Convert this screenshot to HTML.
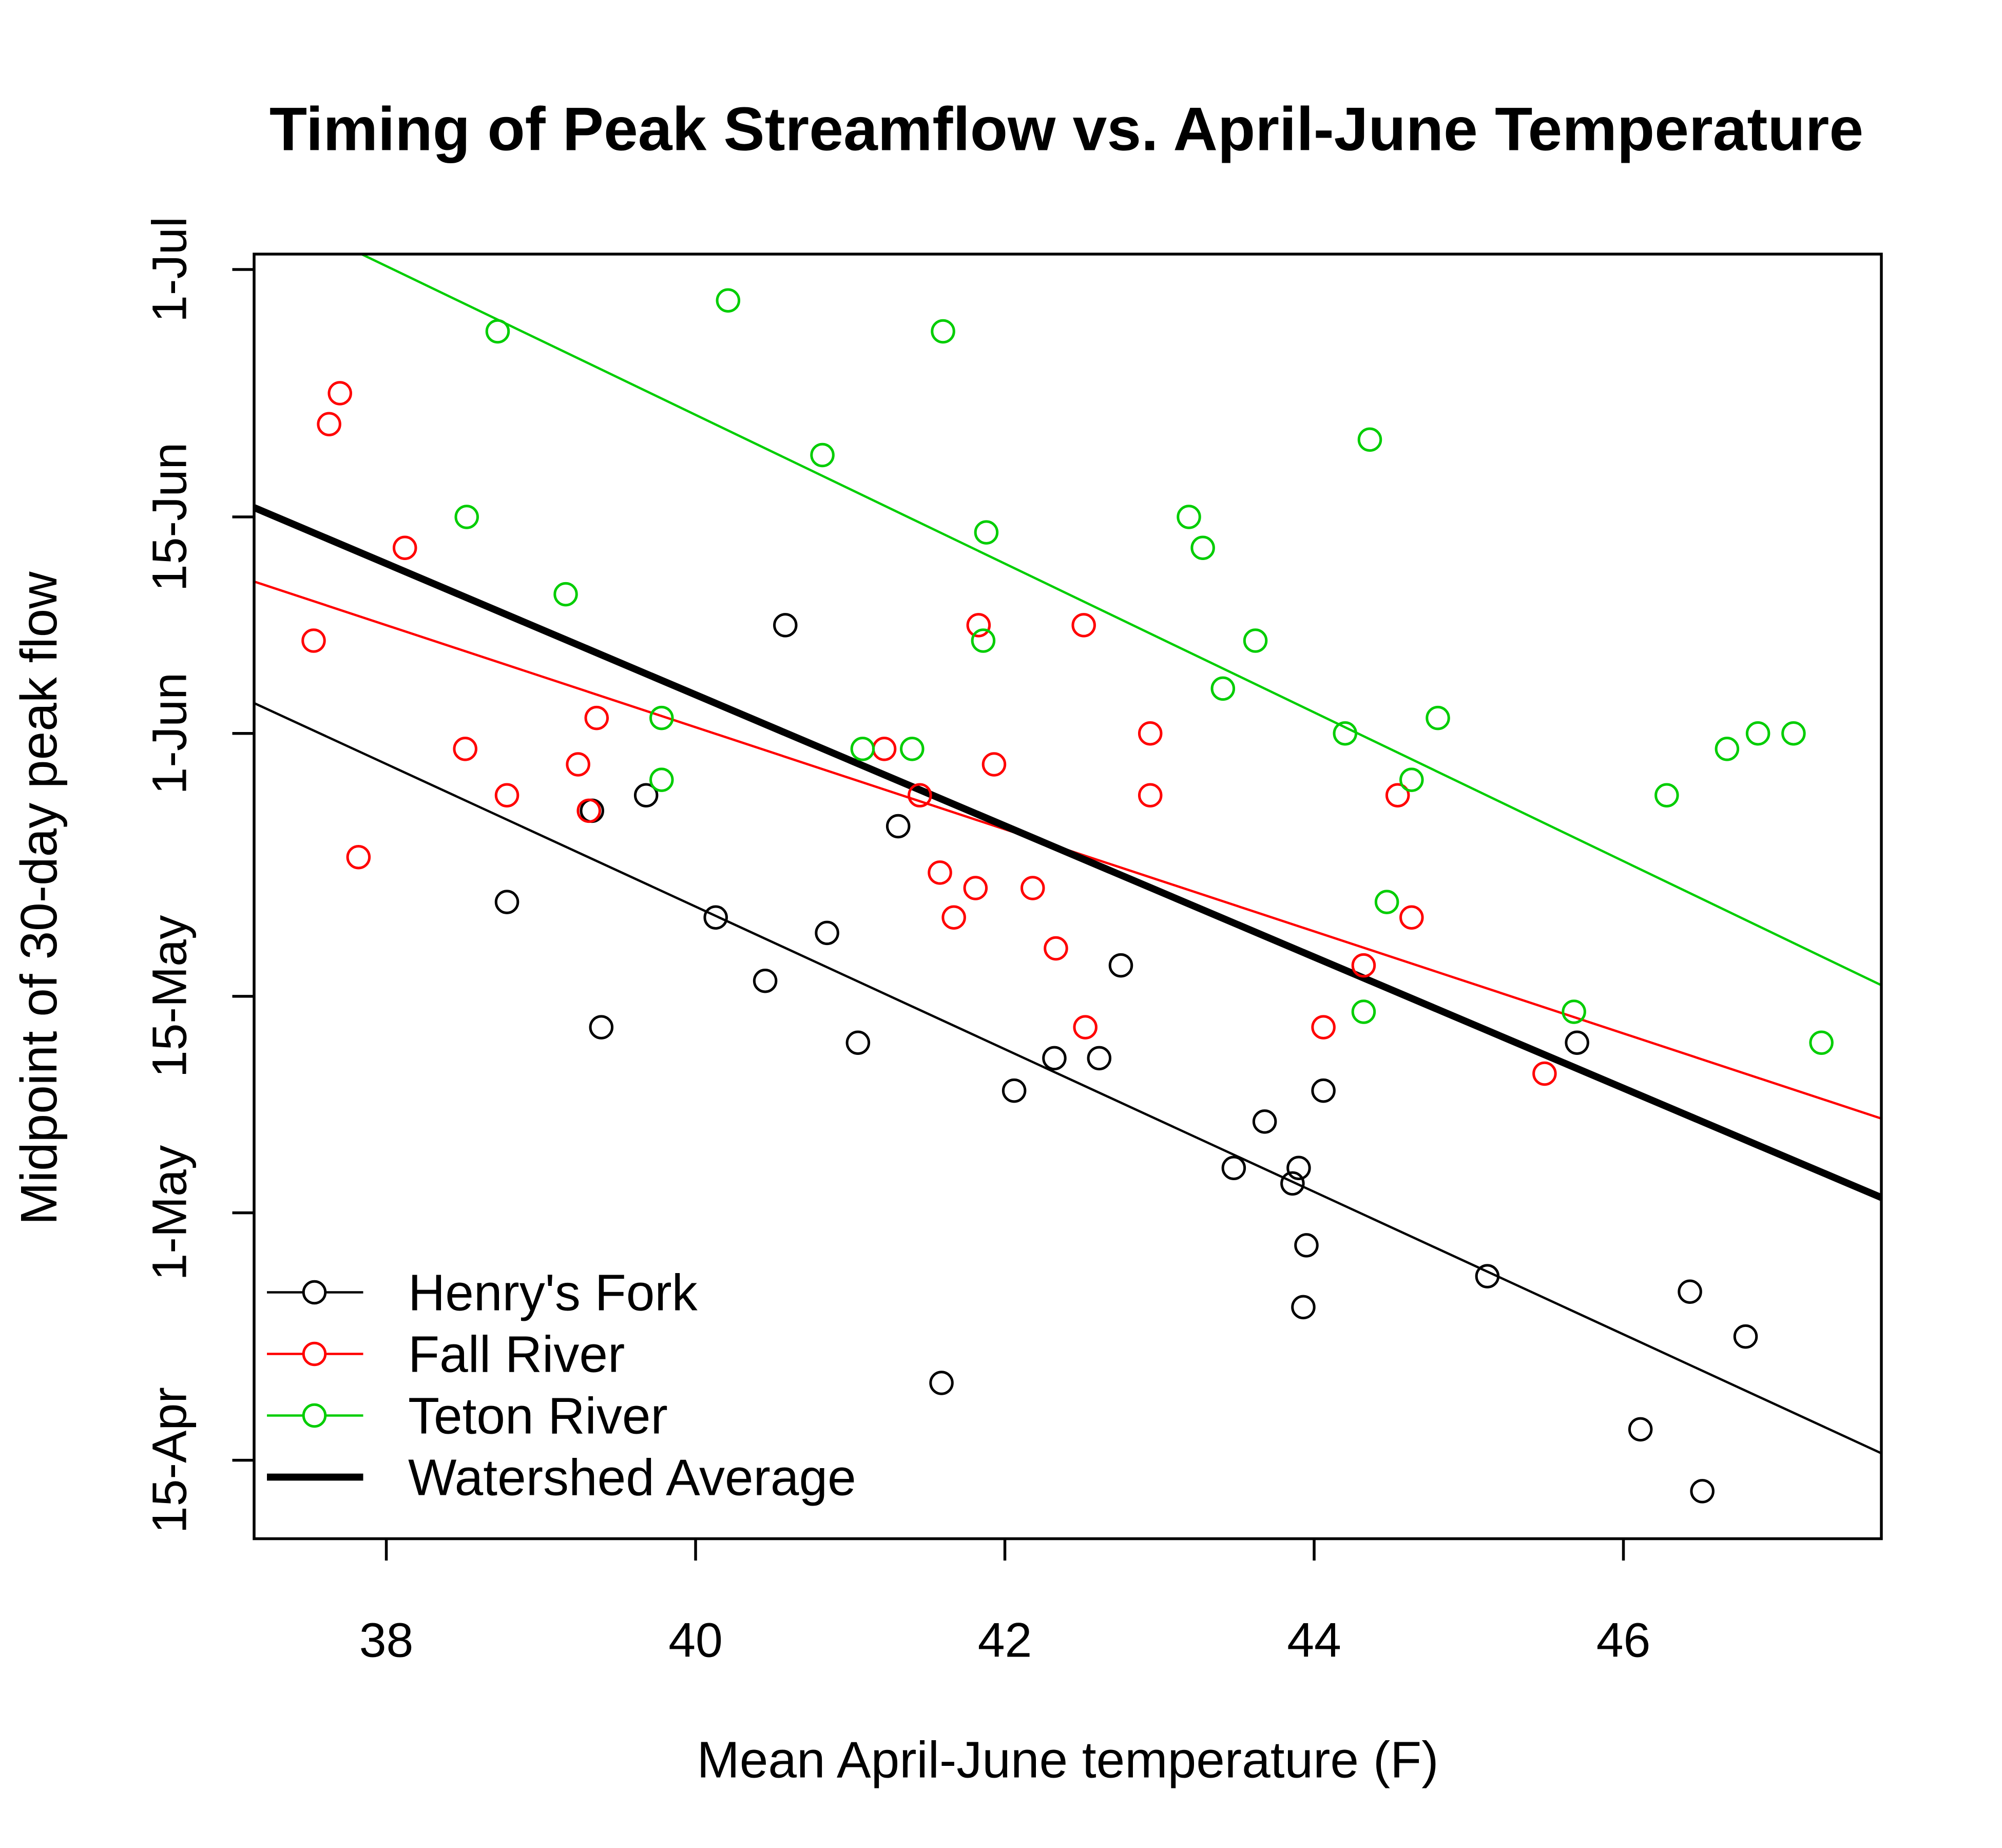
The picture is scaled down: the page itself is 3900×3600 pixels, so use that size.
<!DOCTYPE html>
<html><head><meta charset="utf-8"><style>
html,body{margin:0;padding:0;background:#fff;}
svg{display:block;font-family:"Liberation Sans",Arial,sans-serif;}
</style></head><body>
<svg id="chart" width="3900" height="3600" viewBox="0 0 1560 1440" xmlns="http://www.w3.org/2000/svg">
<defs><clipPath id="plotclip"><rect x="198" y="198" width="1268" height="1001"/></clipPath></defs>
<rect width="1560" height="1440" fill="#fff"/>
<text x="831" y="117" text-anchor="middle" font-size="48" font-weight="bold">Timing of Peak Streamflow vs. April-June Temperature</text>
<text x="832" y="1385" text-anchor="middle" font-size="40">Mean April-June temperature (F)</text>
<text transform="translate(44,700) rotate(-90)" text-anchor="middle" font-size="40">Midpoint of 30-day peak flow</text>
<g id="axes"></g>
<g id="marks" clip-path="url(#plotclip)"></g>
<rect x="198" y="198" width="1268" height="1001" fill="none" stroke="#000" stroke-width="2.2"/>
<g id="legend"></g>
</svg>
<script>
const xTicks = [38, 40, 42, 44, 46];
const yTickDays = [182, 166, 152, 135, 121, 105];
const yTickLabels = ["1-Jul", "15-Jun", "1-Jun", "15-May", "1-May", "15-Apr"];
const henryT = [40.58,39.68,39.33,41.31,38.78,40.13,40.85,42.75,40.45,39.39,41.05,42.32,42.61,45.70,42.06,44.06,43.68,43.48,43.90,43.86,43.95,45.12,43.93,46.43,46.79,41.59,46.11,46.51];
const henryD = [159.0,148.0,147.0,146.0,141.1,140.1,139.1,137.0,136.0,133.0,132.0,131.0,131.0,132.0,128.9,128.9,126.9,123.9,123.9,122.9,118.9,116.9,114.9,115.9,113.0,110.0,107.0,103.0];
const fallT = [37.70,37.63,38.12,37.53,41.83,42.51,39.36,42.94,38.51,41.22,39.24,41.93,38.78,41.45,44.54,42.94,39.31,37.82,41.58,41.81,42.18,41.67,44.63,42.33,44.32,42.52,44.06,45.49];
const fallD = [174.0,172.0,164.0,158.0,159.0,159.0,153.0,152.0,151.0,151.0,150.0,150.0,148.0,148.0,148.0,148.0,147.0,144.0,143.0,142.0,142.0,140.1,140.1,138.1,137.0,133.0,133.0,130.0];
const tetonT = [38.72,40.21,41.60,44.36,40.82,38.52,43.19,41.88,43.28,39.16,43.62,41.86,43.41,39.78,44.80,44.20,46.87,47.10,41.08,41.40,46.67,39.78,44.63,46.28,44.47,45.68,44.32,47.28];
const tetonD = [178.0,180.0,178.0,171.0,170.0,166.0,166.0,165.0,164.0,161.0,158.0,158.0,154.9,153.0,153.0,152.0,152.0,152.0,151.0,151.0,151.0,149.0,149.0,148.0,141.1,134.0,134.0,132.0];
const fitIntercepts = [325.2, 284.4, 365.0, 324.1];
const fitSlopes = [-4.61, -3.30, -4.81, -4.24];

const NS = "http://www.w3.org/2000/svg";
const X0 = 37.145, X1 = 47.668, PX0 = 198, PX1 = 1466;
const sx = t => PX0 + (t - X0) / (X1 - X0) * (PX1 - PX0);
const sy = d => 210 + (182 - d) * 12.05;
function mk(tag, attrs, parent) {
  const e = document.createElementNS(NS, tag);
  for (const k in attrs) e.setAttribute(k, attrs[k]);
  parent.appendChild(e);
  return e;
}
const axes = document.getElementById('axes');
const marks = document.getElementById('marks');
const legend = document.getElementById('legend');

xTicks.forEach(v => {
  const l = mk('line', {x1: sx(v), x2: sx(v), y1: 1199, y2: 1216, stroke: '#000', 'stroke-width': 2.2}, axes);
  
  
  const t = mk('text', {x: sx(v), y: 1291, 'text-anchor': 'middle', 'font-size': 38}, axes);
  t.textContent = v;
  
  
});
yTickDays.forEach((d, i) => {
  const l = mk('line', {x1: 181, x2: 198, y1: sy(d), y2: sy(d), stroke: '#000', 'stroke-width': 2.2}, axes);
  
  
  const t = mk('text', {transform: `translate(145,${sy(d)}) rotate(-90)`, 'text-anchor': 'middle', 'font-size': 38}, axes);
  t.textContent = yTickLabels[i];
  
  
});

const colors = ['#000000', '#ff0000', '#00cd00', '#000000'];
const series = [[henryT, henryD], [fallT, fallD], [tetonT, tetonD]];
const names = ['henrys-fork', 'fall-river', 'teton-river', 'watershed-average'];
fitIntercepts.forEach((b, i) => {
  const m = fitSlopes[i];
  const l = mk('line', {x1: sx(X0), y1: sy(b + m * X0), x2: sx(X1), y2: sy(b + m * X1), stroke: colors[i], 'stroke-width': i === 3 ? 5.5 : 1.8}, marks);
  
  
});
series.forEach((s, i) => {
  s[0].forEach((t, j) => {
    const c = mk('circle', {cx: sx(t), cy: sy(s[1][j]), r: 8.5, fill: 'none', stroke: colors[i], 'stroke-width': 2}, marks);
    
    
  });
});

const legLabels = ["Henry's Fork", "Fall River", "Teton River", "Watershed Average"];
legLabels.forEach((lab, i) => {
  const y = 1007 + i * 48;
  const g = mk('g', {}, legend);
  
  
  mk('line', {x1: 208, x2: 283, y1: y, y2: y, stroke: colors[i], 'stroke-width': i === 3 ? 5.5 : 1.8}, g);
  if (i < 3) mk('circle', {cx: 245, cy: y, r: 8.5, fill: '#fff', stroke: colors[i], 'stroke-width': 2}, g);
  const t = mk('text', {x: 318, y: y + 14, 'font-size': 40}, g);
  t.textContent = lab;
});
</script>
</body></html>
